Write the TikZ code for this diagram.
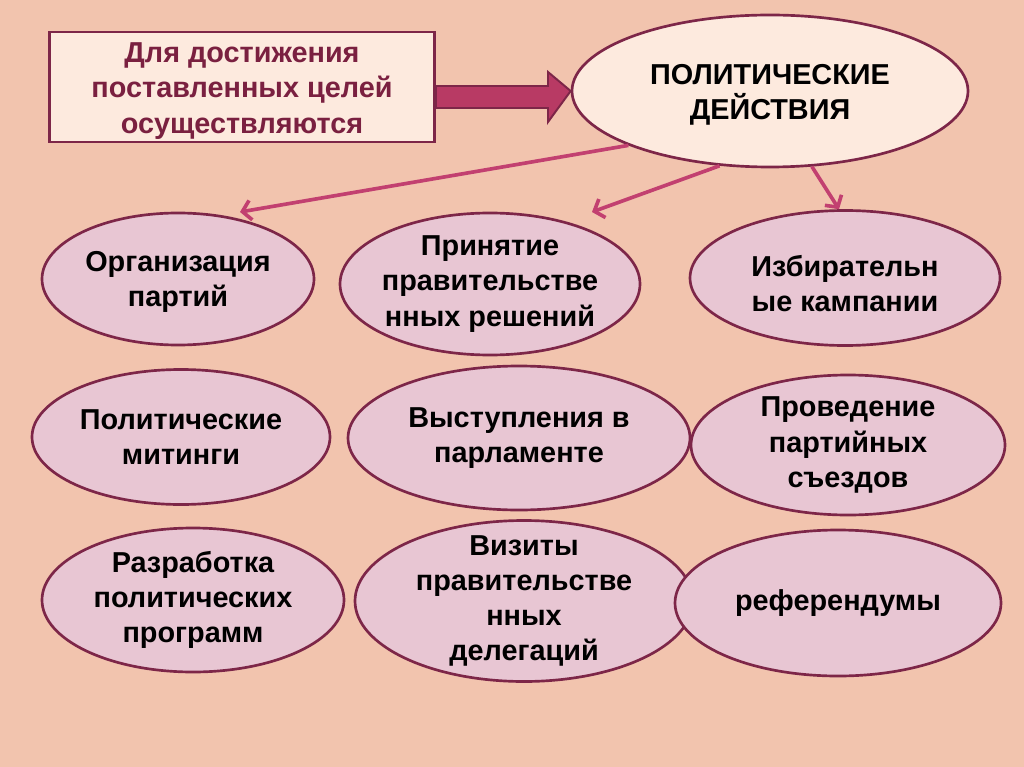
\documentclass[tikz,border=0pt]{standalone}
\usepackage{fontspec}
\setmainfont{Liberation Sans}
\usetikzlibrary{arrows.meta,positioning,shapes.geometric,calc}

\definecolor{bgpeach}{RGB}{242,196,174}
\definecolor{boxfill}{RGB}{253,234,222}
\definecolor{maroon}{RGB}{125,38,72}
\definecolor{boxtext}{RGB}{122,32,64}
\definecolor{ovalfill}{RGB}{232,198,211}
\definecolor{arrowpink}{RGB}{194,64,112}
\definecolor{bigpink}{RGB}{184,58,100}

\begin{document}
\begin{tikzpicture}[
  x=0.025cm, y=-0.025cm,
  every node/.style={font=\bfseries\fontsize{20.5}{25}\selectfont},
  txt/.style={align=center, inner sep=0pt},
  oval/.style={ellipse, draw=maroon, fill=ovalfill, line width=1.9pt, inner sep=0pt},
  topoval/.style={oval, fill=boxfill},
  goalbox/.style={rectangle, draw=maroon, fill=boxfill, line width=1.9pt, align=center, text=boxtext, font=\bfseries\fontsize{20.5}{25}\selectfont},
  link/.style={-{Straight Barb[length=6pt,width=14pt]}, line width=2.6pt, arrowpink},
  bigarrow/.style={draw=maroon, fill=bigpink, line width=1.4pt, line join=miter}
]
  % background
  \fill[bgpeach] (0,0) rectangle (1024,767);
  \useasboundingbox (0,0) rectangle (1024,767);

  \node[goalbox, minimum width=385*0.025cm, minimum height=110*0.025cm] (goal) at (242,87) {};
  \node[txt, text=boxtext] (goaltext) at (242,91) {Для достижения\\поставленных целей\\осуществляются};
  \node[topoval, minimum width=396*0.025cm, minimum height=152*0.025cm,
        label={[txt, yshift=-3pt]center:ПОЛИТИЧЕСКИЕ\\ДЕЙСТВИЯ}] (act) at (770,91) {};

  % row 1
  \node[oval, minimum width=272*0.025cm, minimum height=132*0.025cm,
        label={[txt, yshift=-2pt]center:Организация\\партий}] (org) at (178,279) {};
  \node[oval, minimum width=300*0.025cm, minimum height=142*0.025cm,
        label={[txt]center:Принятие\\правительстве\\нных решений}] (gov) at (490,284) {};
  \node[oval, minimum width=310*0.025cm, minimum height=135*0.025cm,
        label={[txt, yshift=-4pt]center:Избирательн\\ые кампании}] (elect) at (845,278) {};

  % row 2
  \node[oval, minimum width=298*0.025cm, minimum height=135*0.025cm,
        label={[txt]center:Политические\\митинги}] (rally) at (181,437) {};
  \node[oval, minimum width=342*0.025cm, minimum height=144*0.025cm,
        label={[txt]center:Выступления в\\парламенте}] (parl) at (519,438) {};
  \node[oval, minimum width=314*0.025cm, minimum height=140*0.025cm,
        label={[txt]center:Проведение\\партийных\\съездов}] (cong) at (848,445) {};

  % row 3
  \node[oval, minimum width=302*0.025cm, minimum height=144*0.025cm,
        label={[txt]center:Разработка\\политических\\программ}] (prog) at (193,600) {};
  \node[oval, minimum width=338*0.025cm, minimum height=161*0.025cm,
        label={[txt]center:Визиты\\правительстве\\нных\\делегаций}] (visit) at (524,601) {};
  \node[oval, minimum width=326*0.025cm, minimum height=146*0.025cm,
        label={[txt]center:референдумы}] (ref) at (838,603) {};

  % thick arrow
  \draw[bigarrow] ($(goal.east)+(0,-1)$) -- (548,86) -- (548,72) -- (act.west) -- (548,122) -- (548,108) -- ($(goal.east)+(0,21)$) -- cycle;

  % links
  \coordinate (orgtip) at (240,212);
  \coordinate (govtip) at (592,212);
  \draw[link] (act.-159) -- (orgtip);
  \draw[link] (act.-124) -- (govtip);
  \draw[link] (act.-61) -- (elect.95);
\end{tikzpicture}
\end{document}
